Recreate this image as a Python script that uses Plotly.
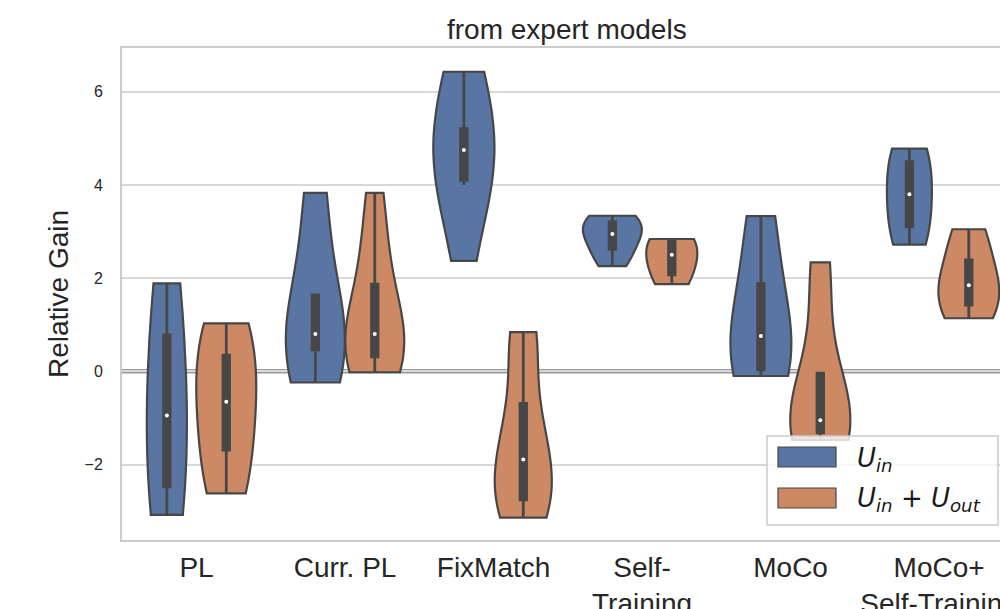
import numpy as np
import plotly.graph_objects as go

# ---------------- data ----------------
categories = ["PL", "Curr. PL", "FixMatch", "Self-<br>Training", "MoCo", "MoCo+<br>Self-Training"]
series_names = ["U_in", "U_in + U_out"]

uin_pl = [-3.08, -2.9, -2.48, -1.9, -0.95, -0.2, 0.78, 1.72, 1.89]
uin_curr_pl = [-0.24, -0.12, 0.46, 0.6, 0.8, 1.1, 1.64, 3.5, 3.83]
uin_fixmatch = [2.37, 4.0, 4.1, 4.4, 4.75, 5.0, 5.21, 6.31, 6.43]
uin_self_training = [2.26, 2.45, 2.62, 2.85, 2.95, 3.05, 3.21, 3.3, 3.34]
uin_moco = [-0.1, -0.05, 0.03, 0.4, 0.76, 1.2, 1.89, 3.21, 3.33]
uin_moco_st = [2.72, 2.8, 3.1, 3.45, 3.8, 4.15, 4.5, 4.71, 4.78]

uinout_pl = [-2.62, -2.51, -1.69, -1.1, -0.65, -0.2, 0.35, 0.93, 1.03]
uinout_curr_pl = [-0.02, 0.1, 0.31, 0.55, 0.8, 1.2, 1.87, 2.8, 3.83]
uinout_fixmatch = [-3.14, -3.01, -2.76, -2.2, -1.89, -1.4, -0.69, 0.7, 0.84]
uinout_self_training = [1.87, 1.92, 2.07, 2.3, 2.5, 2.7, 2.8, 2.82, 2.84]
uinout_moco = [-1.47, -1.4, -1.32, -1.2, -1.05, -0.6, -0.04, 1.9, 2.34]
uinout_moco_st = [1.14, 1.17, 1.42, 1.65, 1.85, 2.1, 2.39, 3.0, 3.05]

y_tick_values = [-2, 0, 2, 4, 6]

uin_all = [uin_pl, uin_curr_pl, uin_fixmatch, uin_self_training, uin_moco, uin_moco_st]
uinout_all = [uinout_pl, uinout_curr_pl, uinout_fixmatch, uinout_self_training, uinout_moco, uinout_moco_st]

# ---------------- styles ----------------
BLUE = "#5875a4"
ORANGE = "#cc8963"
EDGE = "#474747"
FONT = "Liberation Sans, Arial, sans-serif"
TXT = "#262626"
DODGE = 0.2
widths_uin = [0.27, 0.397, 0.41, 0.397, 0.41, 0.303]
widths_uinout = [0.404, 0.397, 0.384, 0.343, 0.404, 0.41]
bw_uin = [2.0, 1.3, 1.4, 0.3, 1.2, 0.7]
bw_uinout = [1.0, 1.0, 0.9, 0.4, 1.1, 0.6]

fig = go.Figure()


def add_violin(vals, pos, width, color, bw):
    fig.add_trace(go.Violin(
        x=[pos] * len(vals), y=vals, width=width, bandwidth=bw,
        fillcolor=color, opacity=1, quartilemethod="inclusive",
        line=dict(color=EDGE, width=2.2),
        spanmode="hard", scalemode="width", points=False,
        box=dict(visible=True, width=6.5 / (width * 148.5), fillcolor=EDGE,
                 line=dict(color=EDGE, width=2.8)),
        meanline=dict(visible=False),
        showlegend=False, hoverinfo="skip"))
    fig.add_trace(go.Scatter(
        x=[pos], y=[float(np.median(vals))], mode="markers",
        marker=dict(color="white", size=4, line=dict(width=0)),
        showlegend=False, hoverinfo="skip"))


for i in range(len(categories)):
    add_violin(uin_all[i], i - DODGE, widths_uin[i], BLUE, bw_uin[i])
    add_violin(uinout_all[i], i + DODGE, widths_uinout[i], ORANGE, bw_uinout[i])

# ---------------- layout ----------------
L, R, T, B = 122, 0, 48, 69
W, H = 1000, 609
PW, PH = W - L - R, H - T - B


def px(xp):
    return (xp - L) / PW


def py(yp):
    return (H - B - yp) / PH


fig.update_layout(
    width=W, height=H,
    margin=dict(l=L, r=R, t=T, b=B, pad=0, autoexpand=False),
    plot_bgcolor="white", paper_bgcolor="white",
    violinmode="overlay", showlegend=False,
    font=dict(family=FONT, color=TXT),
)
fig.update_xaxes(
    range=[-0.502, 5.41], tickvals=list(range(len(categories))), ticktext=categories,
    tickfont=dict(size=28, family=FONT, color=TXT),
    showgrid=False, zeroline=False, automargin=False, ticklabeloverflow="allow",
    showline=True, linecolor="#cccccc", linewidth=2, mirror=True,
    ticks="outside", ticklen=1, tickcolor="rgba(0,0,0,0)",
)
fig.update_yaxes(
    range=[-3.62, 6.94], tickvals=y_tick_values,
    tickfont=dict(size=16, family=FONT, color=TXT),
    showgrid=True, gridcolor="#d8d8d8", gridwidth=1.5,
    zeroline=False,
    showline=True, linecolor="#cccccc", linewidth=2, mirror=False,
    automargin=False, ticklabeloverflow="allow",
    ticks="outside", ticklen=14, tickcolor="rgba(0,0,0,0)",
    title=dict(text="Relative Gain", font=dict(size=28, family=FONT, color=TXT), standoff=8),
)

# zero reference line (dark, below the light gridline -> double-line look)
fig.add_hline(y=0, line=dict(color="#9a9a9a", width=4.5), layer="below")

# subtitle
fig.add_annotation(text="from expert models", xref="paper", yref="paper",
                   x=px(567), y=py(30), xanchor="center", yanchor="middle",
                   showarrow=False, font=dict(size=28, family=FONT, color=TXT))

# legend (drawn manually to match patch sizes)
fig.add_shape(type="rect", xref="paper", yref="paper",
              x0=px(767), x1=px(998), y0=py(525), y1=py(436),
              fillcolor="rgba(255,255,255,0.8)", line=dict(color="#cccccc", width=1.5), layer="above")
fig.add_shape(type="rect", xref="paper", yref="paper",
              x0=px(778), x1=px(836), y0=py(467), y1=py(447),
              fillcolor=BLUE, line=dict(color=EDGE, width=1.2), layer="above")
fig.add_shape(type="rect", xref="paper", yref="paper",
              x0=px(778), x1=px(836), y0=py(508), y1=py(488),
              fillcolor=ORANGE, line=dict(color=EDGE, width=1.2), layer="above")
legend_labels = ["<i>U</i><sub><i>in</i></sub>",
                 "<i>U</i><sub><i>in</i></sub> + <i>U</i><sub><i>out</i></sub>"]
for lab, yc in zip(legend_labels, [459, 499]):
    fig.add_annotation(text=lab, xref="paper", yref="paper", x=px(855), y=py(yc),
                       xanchor="left", yanchor="middle", showarrow=False,
                       font=dict(size=26, family="DejaVu Sans", color="#1a1a1a"))

fig.write_html("out.html", config={"displayModeBar": False},
               post_script="document.body.style.margin='0';document.body.style.overflow='hidden';")
